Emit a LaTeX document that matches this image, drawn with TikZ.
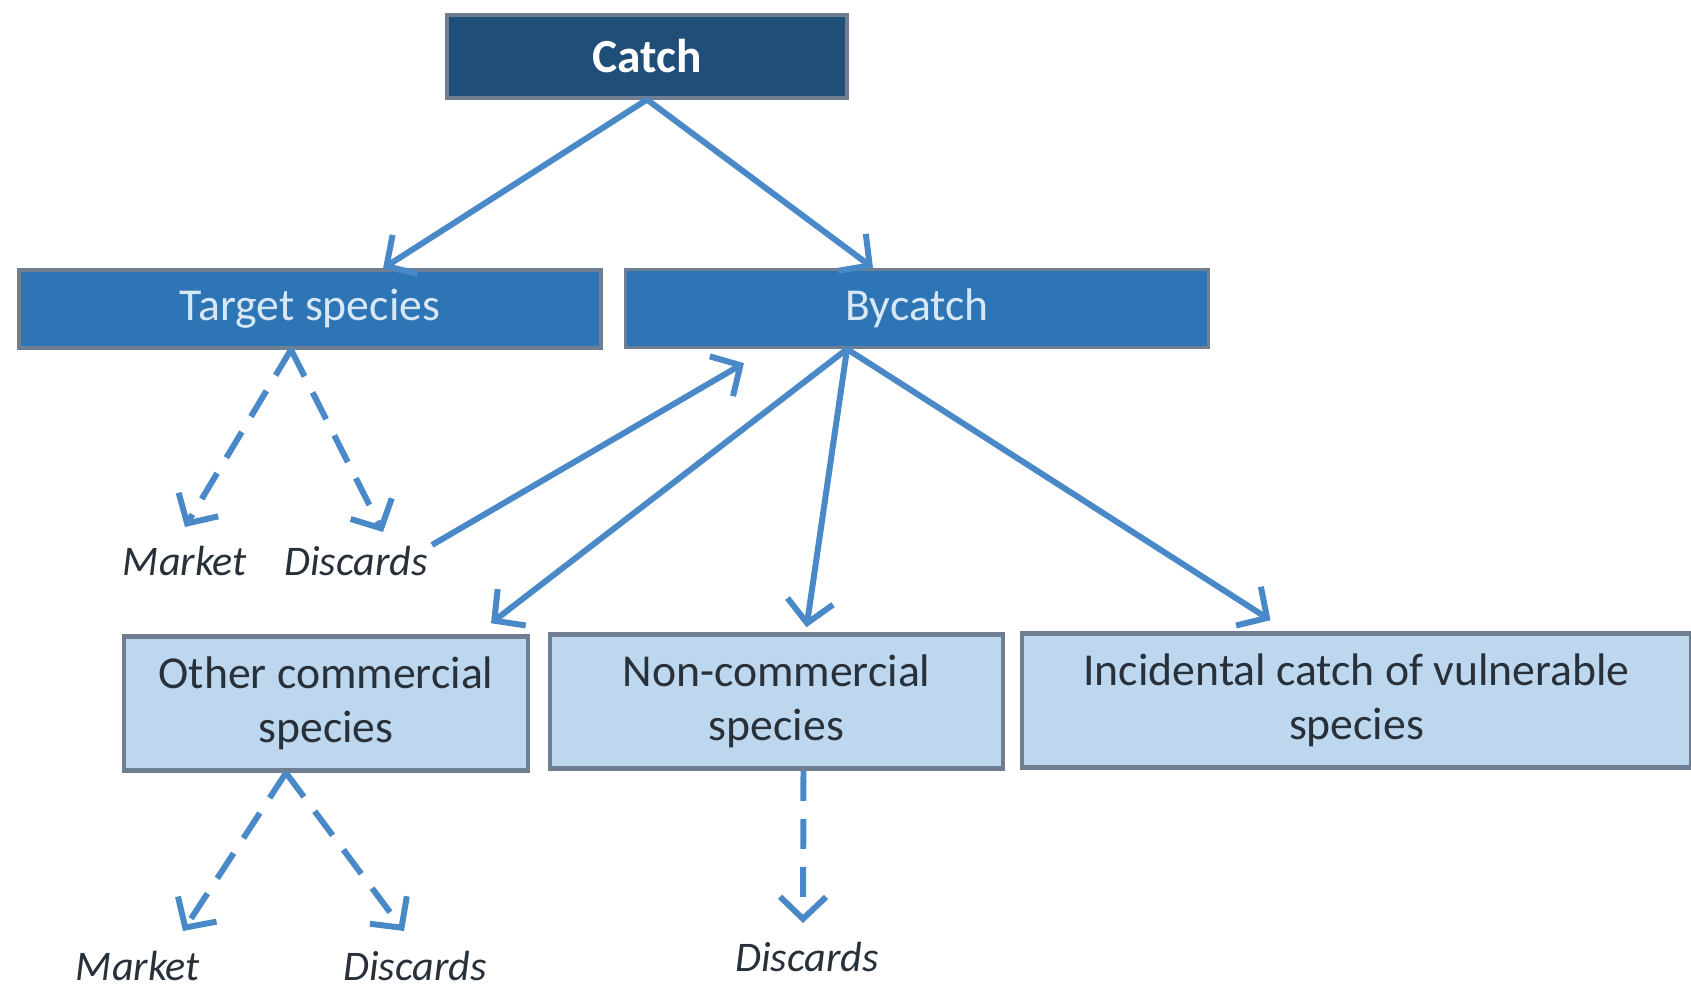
\documentclass[tikz,border=0pt]{standalone}
\usepackage{fontspec}
\setmainfont{Carlito}
\usetikzlibrary{arrows.meta,positioning}
\definecolor{catchNavy}{RGB}{31,78,121}
\definecolor{catchMid}{RGB}{46,117,182}
\definecolor{catchPale}{RGB}{189,215,238}
\definecolor{catchEdge}{RGB}{112,126,145}
\definecolor{catchArrow}{RGB}{74,137,200}
\definecolor{catchInk}{RGB}{40,48,58}

\begin{document}
\begin{tikzpicture}[
    headbox/.style={rectangle, draw=catchEdge, fill=catchNavy, text=white,
                    minimum width=40mm, minimum height=8.3mm,
                    font=\fontsize{13.5}{15}\selectfont\bfseries, line width=0.9pt},
    splitbox/.style={rectangle, draw=catchEdge, fill=catchMid, text=catchPale!60!white,
                     minimum height=7.8mm, font=\fontsize{13}{15}\selectfont,
                     line width=0.9pt},
    leafbox/.style={rectangle, draw=catchEdge, fill=catchPale, text=catchInk,
                    minimum height=13.4mm, align=center,
                    font=\fontsize{13}{15.5}\selectfont, line width=1.3pt},
    outlbl/.style={font=\fontsize{12}{14}\selectfont\itshape, text=catchInk,
                   inner sep=1pt},
    flow/.style={draw=catchArrow, line width=1.7pt,
                 -{Straight Barb[length=2.2mm, width=4.6mm]}},
    dflow/.style={flow, dash pattern=on 3mm off 1.8mm}
  ]
  \useasboundingbox (0,0) rectangle (16.91,-9.90);

  \node[headbox] (catch) at (6.47,-0.565) {Catch};

  \node[splitbox, minimum width=58.2mm] (target) at (3.10,-3.09) {Target species};
  \node[splitbox, minimum width=58.3mm] (bycatch) at (9.17,-3.085) {Bycatch};

  \node[leafbox, minimum width=40.4mm] (other) at (3.26,-7.035) {Other commercial\\species};
  \node[leafbox, minimum width=45.3mm] (noncom) at (7.765,-7.015) {Non-commercial\\species};
  \node[leafbox, minimum width=66.9mm] (incid) at (13.565,-7.005) {Incidental catch of vulnerable\\species};

  \node[outlbl] (mkt1) at (1.85,-5.61) {Market};
  \node[outlbl] (dis1) at (3.56,-5.61) {Discards};
  \node[outlbl] (mkt2) at (1.38,-9.66) {Market};
  \node[outlbl] (dis2) at (4.15,-9.66) {Discards};
  \node[outlbl] (dis3) at (8.07,-9.57) {Discards};

  % catch splits
  \draw[flow] (catch.south) -- ([xshift=7.3mm]target.north);
  \draw[flow] (catch.south) -- ([xshift=-4.4mm]bycatch.north);

  % target species
  \draw[dflow] ([xshift=-1.9mm]target.south) -- ([yshift=1.5mm]mkt1.north);
  \draw[dflow] ([xshift=-1.9mm]target.south) -- ([xshift=2.7mm,yshift=1mm]dis1.north);
  \draw[flow] ([yshift=1.6mm]dis1.east) -- ([xshift=-17.3mm,yshift=-1.4mm]bycatch.south);

  % bycatch
  \draw[flow] ([xshift=-7mm]bycatch.south) -- ([xshift=16.5mm,yshift=1.1mm]other.north);
  \draw[flow] ([xshift=-7mm]bycatch.south) -- ([xshift=3mm,yshift=0.5mm]noncom.north);
  \draw[flow] ([xshift=-7mm]bycatch.south) -- ([xshift=-8.6mm,yshift=1.1mm]incid.north);

  % lower outcomes
  \draw[dflow] ([xshift=-4mm]other.south) -- ([xshift=4.5mm,yshift=1.6mm]mkt2.north);
  \draw[dflow] ([xshift=-4mm]other.south) -- ([xshift=-1.1mm,yshift=1.6mm]dis2.north);
  \draw[dflow] ([xshift=2.7mm]noncom.south) -- ([xshift=-0.4mm,yshift=1.5mm]dis3.north);
\end{tikzpicture}
\end{document}
